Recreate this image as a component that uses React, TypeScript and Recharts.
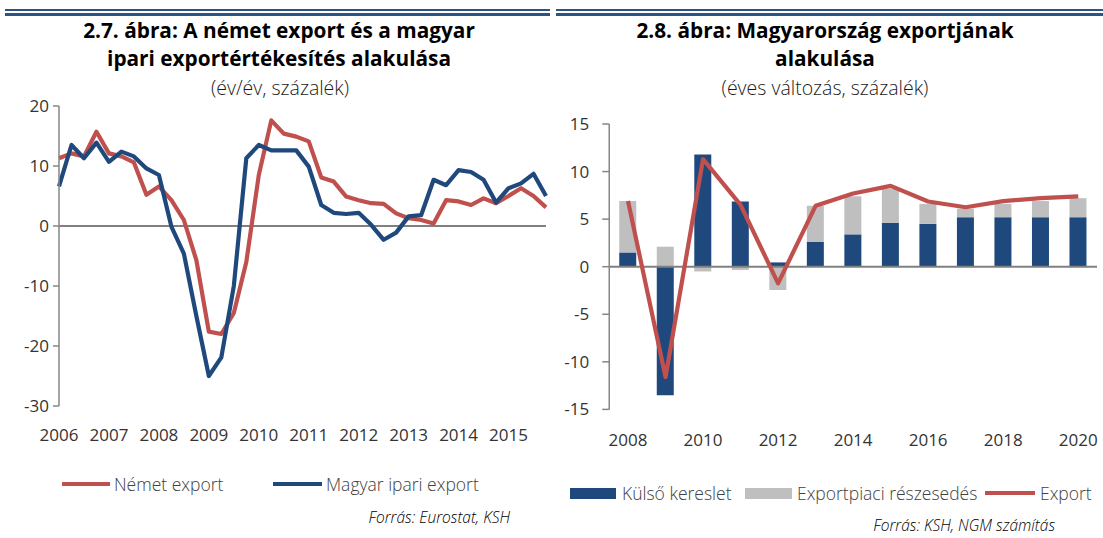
import React from 'react';
import { LineChart, Line, XAxis, YAxis, ReferenceLine, ComposedChart, Bar } from 'recharts';

const FONT = '"Open Sans", "Noto Sans", sans-serif';
const RED = '#C0504D';
const BLUE = '#1F497D';
const GRAY = '#BFBFBF';
const AXIS = '#868686';

// Left chart: quarterly data 2006Q1 - 2015Q4
const yearLabelsLeft = ['2006', '2007', '2008', '2009', '2010', '2011', '2012', '2013', '2014', '2015'];
const nemetExport = [11.3, 12.1, 11.6, 15.7, 12.1, 11.6, 10.6, 5.2, 6.6, 4.3, 1.0, -5.7, -17.6, -18.0, -14.5, -6.0, 8.5, 17.6, 15.4, 14.9, 14.1, 8.1, 7.4, 4.9, 4.3, 3.8, 3.7, 2.1, 1.3, 1.0, 0.4, 4.3, 4.1, 3.5, 4.6, 3.8, 5.0, 6.3, 5.0, 3.1];
const magyarIpariExport = [6.6, 13.5, 11.3, 13.9, 10.7, 12.4, 11.6, 9.6, 8.5, -0.1, -4.6, -15.0, -25.0, -21.9, -10.0, 11.3, 13.5, 12.6, 12.6, 12.6, 9.9, 3.5, 2.2, 2.0, 2.2, 0.2, -2.3, -1.1, 1.6, 1.8, 7.7, 6.8, 9.3, 9.0, 7.7, 3.9, 6.3, 7.1, 8.7, 5.0];
const leftYTicks = [-30, -20, -10, 0, 10, 20];

// Right chart: annual data 2008 - 2020
const years = ['2008', '2009', '2010', '2011', '2012', '2013', '2014', '2015', '2016', '2017', '2018', '2019', '2020'];
const kulsoKereslet = [1.5, -13.5, 11.8, 6.85, 0.45, 2.6, 3.4, 4.6, 4.5, 5.2, 5.2, 5.2, 5.2];
const exportpiaciReszesedes = [5.4, 2.1, -0.5, -0.35, -2.45, 3.8, 4.0, 3.6, 2.1, 0.9, 1.4, 1.7, 2.0];
const exportTotal = [6.9, -11.6, 11.3, 6.5, -1.75, 6.4, 7.7, 8.5, 6.85, 6.25, 6.9, 7.2, 7.4];
const rightYTicks = [-15, -10, -5, 0, 5, 10, 15];

const leftData = nemetExport.map((v, i) => ({ i, nemet: v, magyar: magyarIpariExport[i] }));
const leftXTicks = yearLabelsLeft.map((_, k) => k * 4);
const rightData = years.map((y, i) => ({
  year: y,
  kulso: kulsoKereslet[i],
  reszesedes: exportpiaciReszesedes[i],
  export: exportTotal[i],
}));

const Txt = ({ cx, cy, w, text, style }: any) => (
  <div
    style={{
      position: 'absolute',
      left: cx - w / 2,
      top: cy - 15,
      width: w,
      height: 30,
      lineHeight: '30px',
      textAlign: 'center',
      whiteSpace: 'nowrap',
      ...style,
    }}
  >
    {text}
  </div>
);

const LegText = ({ left, cy, text, style }: any) => (
  <div
    style={{
      position: 'absolute',
      left,
      top: cy - 12,
      height: 24,
      lineHeight: '24px',
      whiteSpace: 'nowrap',
      fontSize: 17.5,
      fontWeight: 300,
      color: '#404040',
      ...style,
    }}
  >
    {text}
  </div>
);

const Swatch = ({ left, top, width, height, color }: any) => (
  <div style={{ position: 'absolute', left, top, width, height, background: color }} />
);

export default function App() {
  const titleStyle = { fontWeight: 700, fontSize: 20.8, color: '#000' };
  const subStyle = { fontWeight: 300, fontSize: 19.5, color: '#1a1a1a' };
  const tickStyle = { fill: '#333', fontSize: 17, fontFamily: FONT };
  const srcStyle: any = {
    position: 'absolute',
    height: 24,
    lineHeight: '24px',
    textAlign: 'right',
    fontStyle: 'italic',
    fontWeight: 300,
    fontSize: 15.5,
    color: '#000',
    whiteSpace: 'nowrap',
  };
  return (
    <div
      style={{
        position: 'absolute',
        left: 0,
        top: 0,
        width: 1103,
        height: 538,
        background: '#fff',
        fontFamily: FONT,
        overflow: 'hidden',
      }}
    >
      {/* header rules */}
      <Swatch left={5} top={9} width={545} height={1.5} color="#2E5283" />
      <Swatch left={5} top={12.5} width={545} height={3} color="#2E5283" />
      <Swatch left={556} top={9} width={547} height={1.5} color="#2E5283" />
      <Swatch left={556} top={12.5} width={547} height={3} color="#2E5283" />

      {/* titles */}
      <Txt cx={279} cy={30} w={540} text="2.7. ábra: A német export és a magyar" style={titleStyle} />
      <Txt cx={279} cy={58} w={540} text="ipari exportértékesítés alakulása" style={titleStyle} />
      <Txt cx={280} cy={88} w={540} text="(év/év, százalék)" style={subStyle} />
      <Txt cx={825} cy={30} w={540} text="2.8. ábra: Magyarország exportjának" style={titleStyle} />
      <Txt cx={825} cy={58} w={540} text="alakulása" style={titleStyle} />
      <Txt cx={825} cy={88} w={540} text="(éves változás, százalék)" style={subStyle} />

      {/* left chart */}
      <div style={{ position: 'absolute', left: 0, top: 0 }}>
        <LineChart width={552} height={538} data={leftData} margin={{ top: 106, right: 6, bottom: 102, left: 9 }}>
          <XAxis
            dataKey="i"
            type="number"
            domain={[0, 39]}
            ticks={leftXTicks}
            interval={0}
            tickFormatter={(v: number) => yearLabelsLeft[Math.round(v / 4)]}
            axisLine={false}
            tickLine={false}
            tickSize={0}
            tickMargin={22.5}
            height={30}
            tick={tickStyle}
          />
          <YAxis
            domain={[-30, 20]}
            ticks={leftYTicks}
            interval={0}
            width={50}
            axisLine={{ stroke: AXIS, strokeWidth: 1.5 }}
            tickLine={{ stroke: AXIS, strokeWidth: 1.5 }}
            tickSize={6}
            tickMargin={4}
            tick={tickStyle}
          />
          <ReferenceLine y={0} stroke="#808080" strokeWidth={2} />
          <Line
            dataKey="nemet"
            stroke={RED}
            strokeWidth={4.2}
            dot={false}
            isAnimationActive={false}
            strokeLinejoin="round"
            type="linear"
          />
          <Line
            dataKey="magyar"
            stroke={BLUE}
            strokeWidth={4.2}
            dot={false}
            isAnimationActive={false}
            strokeLinejoin="round"
            type="linear"
          />
        </LineChart>
      </div>

      {/* right chart */}
      <div style={{ position: 'absolute', left: 552, top: 0 }}>
        <ComposedChart
          width={551}
          height={538}
          data={rightData}
          stackOffset="sign"
          barCategoryGap={0}
          margin={{ top: 124, right: 6, bottom: 98.6, left: 7.25 }}
        >
          <XAxis
            dataKey="year"
            type="category"
            interval={1}
            axisLine={false}
            tickLine={false}
            tickSize={0}
            tickMargin={24.6}
            height={30}
            tick={tickStyle}
          />
          <YAxis
            domain={[-15, 15]}
            ticks={rightYTicks}
            interval={0}
            width={50}
            axisLine={{ stroke: AXIS, strokeWidth: 1.5 }}
            tickLine={{ stroke: AXIS, strokeWidth: 1.5 }}
            tickSize={7}
            tickMargin={13}
            tick={tickStyle}
          />
          <Bar dataKey="kulso" stackId="a" fill={BLUE} barSize={17} isAnimationActive={false} />
          <Bar dataKey="reszesedes" stackId="a" fill={GRAY} barSize={17} isAnimationActive={false} />
          <ReferenceLine y={0} stroke="#808080" strokeWidth={2} />
          <Line
            dataKey="export"
            stroke={RED}
            strokeWidth={4.2}
            dot={false}
            isAnimationActive={false}
            strokeLinejoin="round"
            type="linear"
          />
        </ComposedChart>
      </div>

      {/* left legend */}
      <Swatch left={62} top={482} width={48} height={4} color={RED} />
      <LegText left={114} cy={484} text="Német export" />
      <Swatch left={273} top={482} width={49} height={4} color={BLUE} />
      <LegText left={326} cy={484} text="Magyar ipari export" />
      <div style={{ ...srcStyle, left: 260, width: 250, top: 505 }}>Forrás: Eurostat, KSH</div>

      {/* right legend */}
      <Swatch left={570} top={488} width={46} height={11} color={BLUE} />
      <LegText left={622} cy={493} text="Külső kereslet" />
      <Swatch left={745} top={488} width={47} height={11} color={GRAY} />
      <LegText left={797} cy={493} text="Exportpiaci részesedés" />
      <Swatch left={985} top={491} width={50} height={4} color={RED} />
      <LegText left={1040} cy={493} text="Export" />
      <div style={{ ...srcStyle, left: 755, width: 300, top: 513 }}>Forrás: KSH, NGM számítás</div>
    </div>
  );
}
